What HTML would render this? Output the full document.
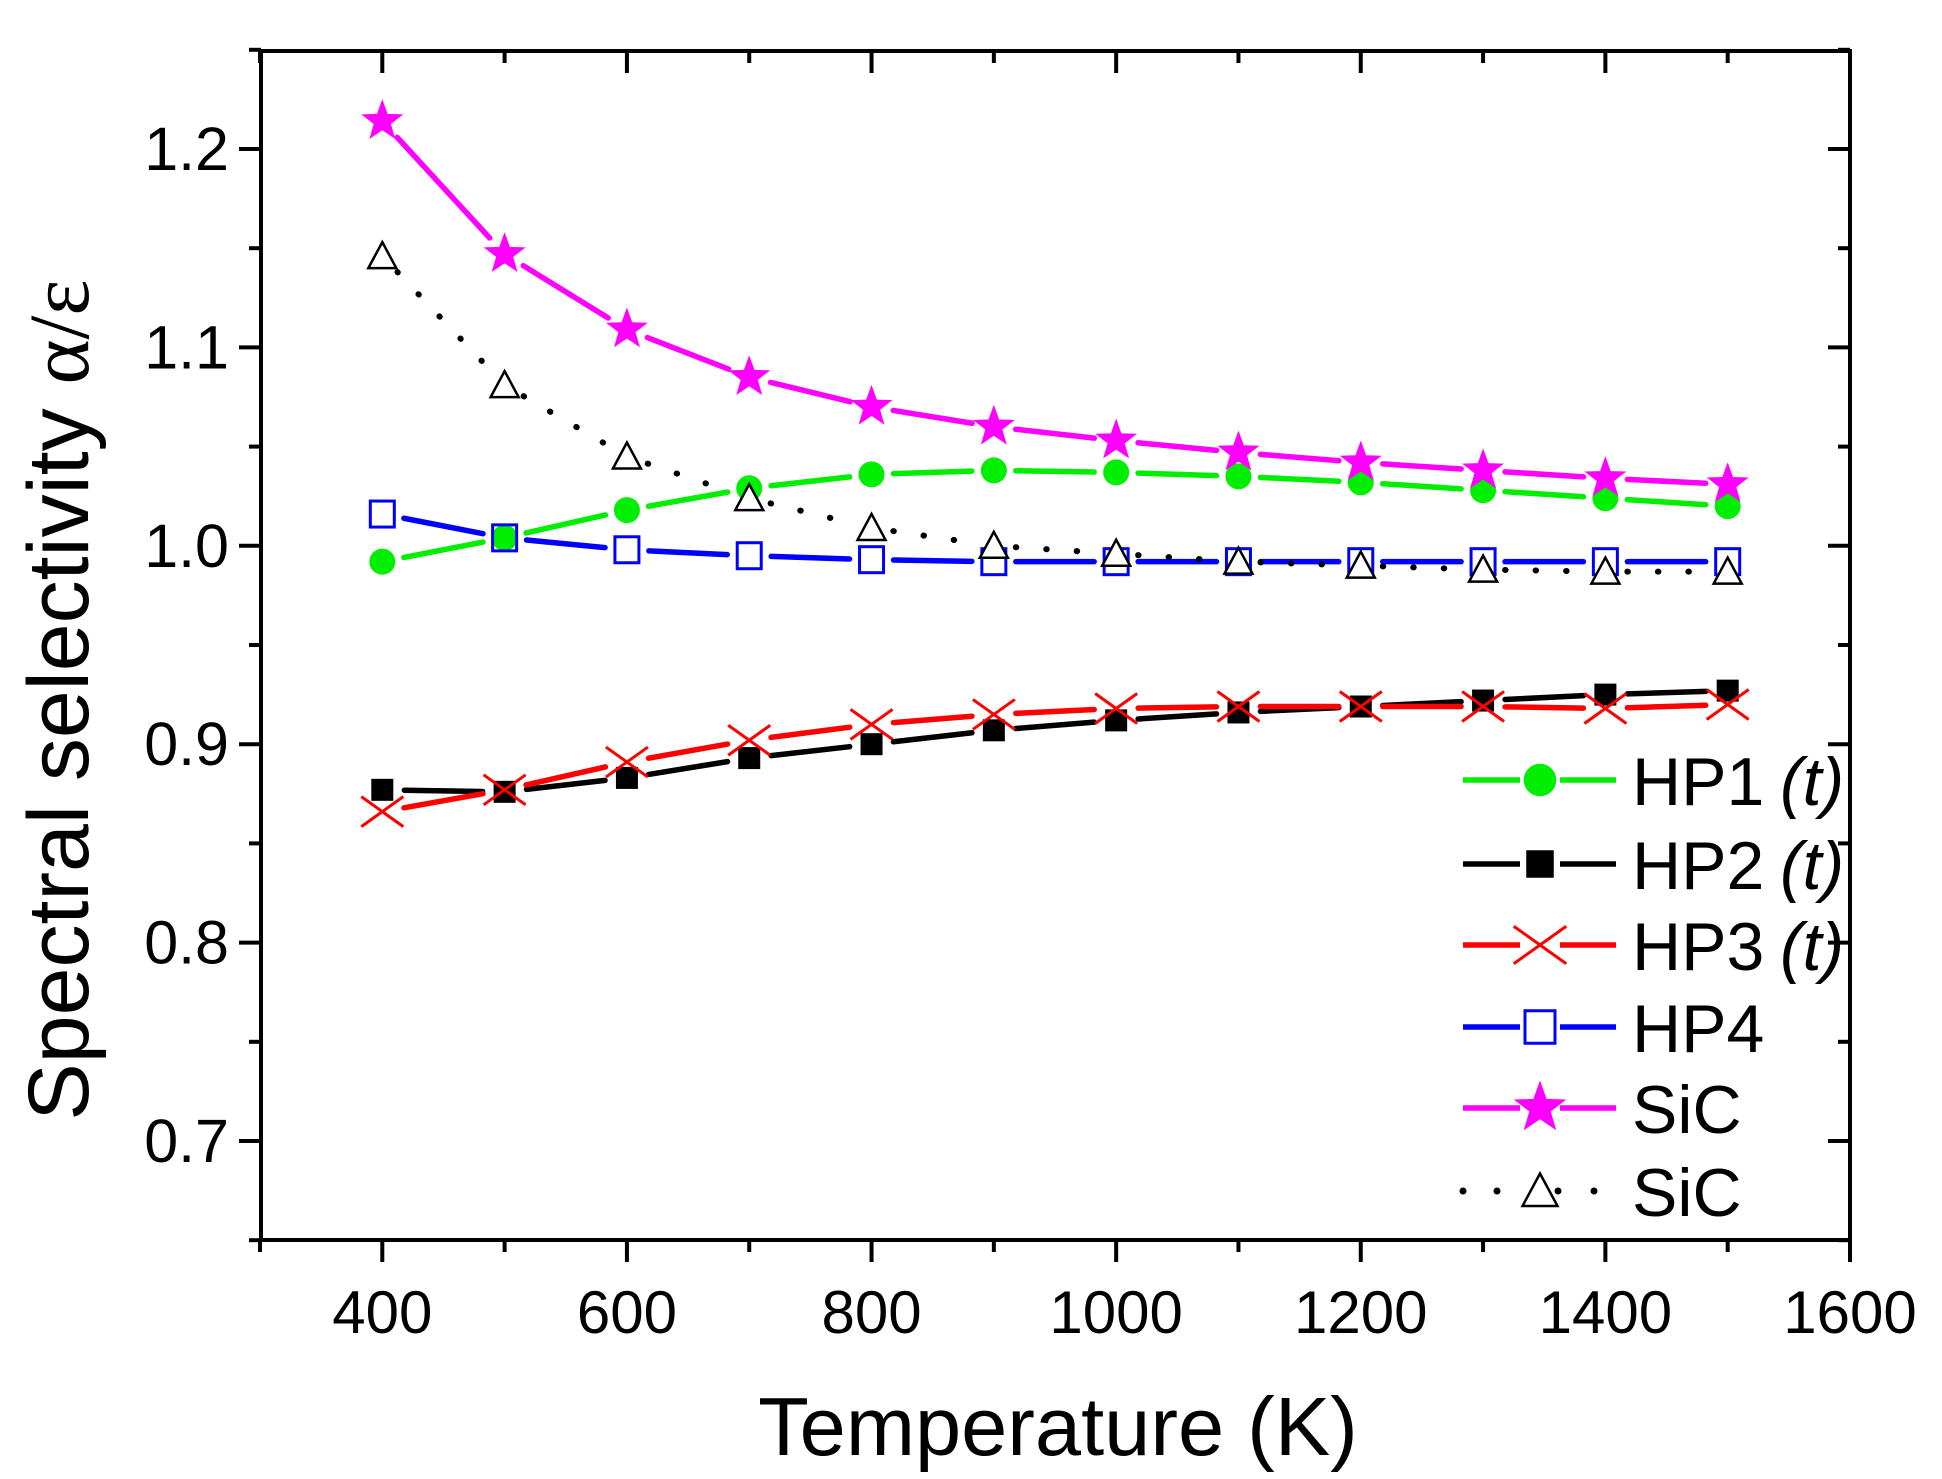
<!DOCTYPE html>
<html><head><meta charset="utf-8"><style>
body{margin:0;background:#fff}
svg{display:block;font-family:"Liberation Sans",Arial,sans-serif}
</style></head><body>
<svg id="chart" width="1942" height="1479" viewBox="0 0 1942 1479">
<g id="axes"></g>
<g id="series"></g>
<g id="legend"></g>
<text x="1058" y="1455" font-size="83" text-anchor="middle">Temperature (K)</text>
<text transform="translate(88,700) rotate(-90)" font-size="86" text-anchor="middle">Spectral selectivity <tspan font-family="Liberation Serif,serif">α/ε</tspan></text>
</svg>
<script>
const temps=[400,500,600,700,800,900,1000,1100,1200,1300,1400,1500];
const hp1=[0.992,1.004,1.018,1.029,1.036,1.038,1.037,1.035,1.032,1.028,1.024,1.020];
const hp2=[0.877,0.876,0.883,0.893,0.900,0.907,0.912,0.916,0.919,0.922,0.925,0.927];
const hp3=[0.866,0.877,0.891,0.902,0.910,0.915,0.918,0.919,0.919,0.919,0.918,0.920];
const hp4=[1.016,1.004,0.998,0.995,0.993,0.992,0.992,0.992,0.992,0.992,0.992,0.992];
const sicStar=[1.214,1.147,1.109,1.085,1.070,1.060,1.053,1.047,1.042,1.038,1.034,1.031];
const sicTri=[1.146,1.081,1.045,1.024,1.009,1.000,0.996,0.992,0.990,0.988,0.987,0.987];
const xTicks=[400,600,800,1000,1200,1400,1600];
const yTicks=[0.7,0.8,0.9,1.0,1.1,1.2];
const legendLabels=["HP1","HP2","HP3","HP4","SiC","SiC"];

const NS="http://www.w3.org/2000/svg";
const L=261,R=1850,T=51,B=1240;
const xs=v=>260+(v-300)*(1590/1300);
const ys=v=>149+(1.2-v)*(992/0.5);
function mk(tag,attrs,parent){const e=document.createElementNS(NS,tag);for(const k in attrs)e.setAttribute(k,attrs[k]);parent.appendChild(e);return e;}
const axes=document.getElementById('axes');
const frame=mk('rect',{x:L,y:T,width:R-L,height:B-T,fill:'none',stroke:'#000','stroke-width':4},axes);


for(let v=300;v<=1600;v+=100){
  const major=(v%200===0);const x=xs(v);const len=major?22:12;
  const t=mk('line',{x1:x,y1:B,x2:x,y2:B+len,stroke:'#000','stroke-width':4},axes);
  
  
  const t2=mk('line',{x1:x,y1:T,x2:x,y2:T+len,stroke:'#000','stroke-width':4},axes);
  
  
}
for(let i=0;i<=12;i++){
  const v=0.65+i*0.05;const major=(i%2===1);const y=ys(v);const len=major?22:12;
  const t=mk('line',{x1:L-len,y1:y,x2:L,y2:y,stroke:'#000','stroke-width':4},axes);
  
  
  const t2=mk('line',{x1:R-len,y1:y,x2:R,y2:y,stroke:'#000','stroke-width':4},axes);
  
  
}
xTicks.forEach(v=>{const t=mk('text',{x:xs(v),y:1333,'font-size':60,'text-anchor':'middle'},axes);t.textContent=v;
  
  });
yTicks.forEach(v=>{const t=mk('text',{x:229,y:ys(v)+21,'font-size':61,'text-anchor':'end'},axes);t.textContent=v.toFixed(1);
  
  });

function marker(type,x,y,color,parent,s){
  s=s||1;let e;
  if(type==='circle')e=mk('ellipse',{cx:x,cy:y,rx:13*s,ry:13*s,fill:color},parent);
  else if(type==='square')e=mk('rect',{x:x-11*s,y:y-11*s,width:22*s,height:22*s,fill:color},parent);
  else if(type==='osquare')e=mk('rect',{x:x-12*s,y:y-13*s,width:24*s,height:26*s,fill:'none',stroke:color,'stroke-width':3},parent);
  else if(type==='x')e=mk('path',{d:`M${x-21*s},${y-15*s}L${x+21*s},${y+15*s}M${x-21*s},${y+15*s}L${x+21*s},${y-15*s}`,stroke:color,'stroke-width':3,fill:'none'},parent);
  else if(type==='tri')e=mk('path',{d:`M${x},${y-14*s}L${x+14*s},${y+12*s}L${x-14*s},${y+12*s}Z`,fill:'#fff',stroke:color,'stroke-width':2.5},parent);
  else if(type==='star'){let d='';for(let i=0;i<10;i++){const r=(i%2?9:22)*s;const a=-Math.PI/2+i*Math.PI/5;d+=(i?'L':'M')+(x+r*Math.cos(a)).toFixed(1)+','+(y+r*Math.sin(a)).toFixed(1);}e=mk('path',{d:d+'Z',fill:color},parent);}
  return e;
}
function seg(x1,y1,x2,y2,gap,color,dash,parent){
  const dx=x2-x1,dy=y2-y1,l=Math.hypot(dx,dy);if(l<2*gap)return null;
  const ux=dx/l,uy=dy/l;
  const a={x1:x1+ux*gap,y1:y1+uy*gap,x2:x2-ux*gap,y2:y2-uy*gap,stroke:color,'stroke-width':dash?6:5.5,'stroke-linecap':'round'};
  if(dash){a['stroke-dasharray']='0.5 30';}
  return mk('line',a,parent);
}
const series=[
 {name:'hp1',data:hp1,color:'#00ee00',m:'circle',dash:false,label:'HP1',t:true},
 {name:'hp2',data:hp2,color:'#000',m:'square',dash:false,label:'HP2',t:true},
 {name:'hp3',data:hp3,color:'#ff0000',m:'x',dash:false,label:'HP3',t:true},
 {name:'hp4',data:hp4,color:'#0000ff',m:'osquare',dash:false,label:'HP4',t:false},
 {name:'sic-star',data:sicStar,color:'#ff00ff',m:'star',dash:false,label:'SiC',t:false},
 {name:'sic-triangle',data:sicTri,color:'#000',m:'tri',dash:true,label:'SiC',t:false}
];
const sg=document.getElementById('series');
series.forEach(s=>{
  const g=mk('g',{},sg);
  
  
  for(let i=0;i<temps.length-1;i++){
    const l=seg(xs(temps[i]),ys(s.data[i]),xs(temps[i+1]),ys(s.data[i+1]),22,s.color,s.dash,g);
    if(l){
    }
  }
  temps.forEach((t,i)=>{
    const e=marker(s.m,xs(t),ys(s.data[i]),s.color,g);
    
    
  });
});
const lg=document.getElementById('legend');
const rowsY=[780,864,945,1027,1108,1191];
series.forEach((s,i)=>{
  const g=mk('g',{},lg);
  
  
  const y=rowsY[i];
  if(s.dash){
    [1463,1497,1558,1594].forEach(x=>{const d=mk('circle',{cx:x,cy:y,r:3.5,fill:'#000'},g);
      
      });
  }else{
    const a=mk('line',{x1:1463,y1:y,x2:1520,y2:y,stroke:s.color,'stroke-width':5.5},g);
    
    
    const b=mk('line',{x1:1560,y1:y,x2:1616,y2:y,stroke:s.color,'stroke-width':5.5},g);
    
    
  }
  const m=marker(s.m,1540,y,s.color,g,1.25);
  
  
  const t=mk('text',{x:1632,y:y+25,'font-size':68},g);
  t.textContent=s.label;
  
  
  if(s.t){const ti=mk('text',{x:1780,y:y+25,'font-size':68,'font-style':'italic'},g);ti.textContent='(t)';
    
    }
});
</script>
</body></html>
